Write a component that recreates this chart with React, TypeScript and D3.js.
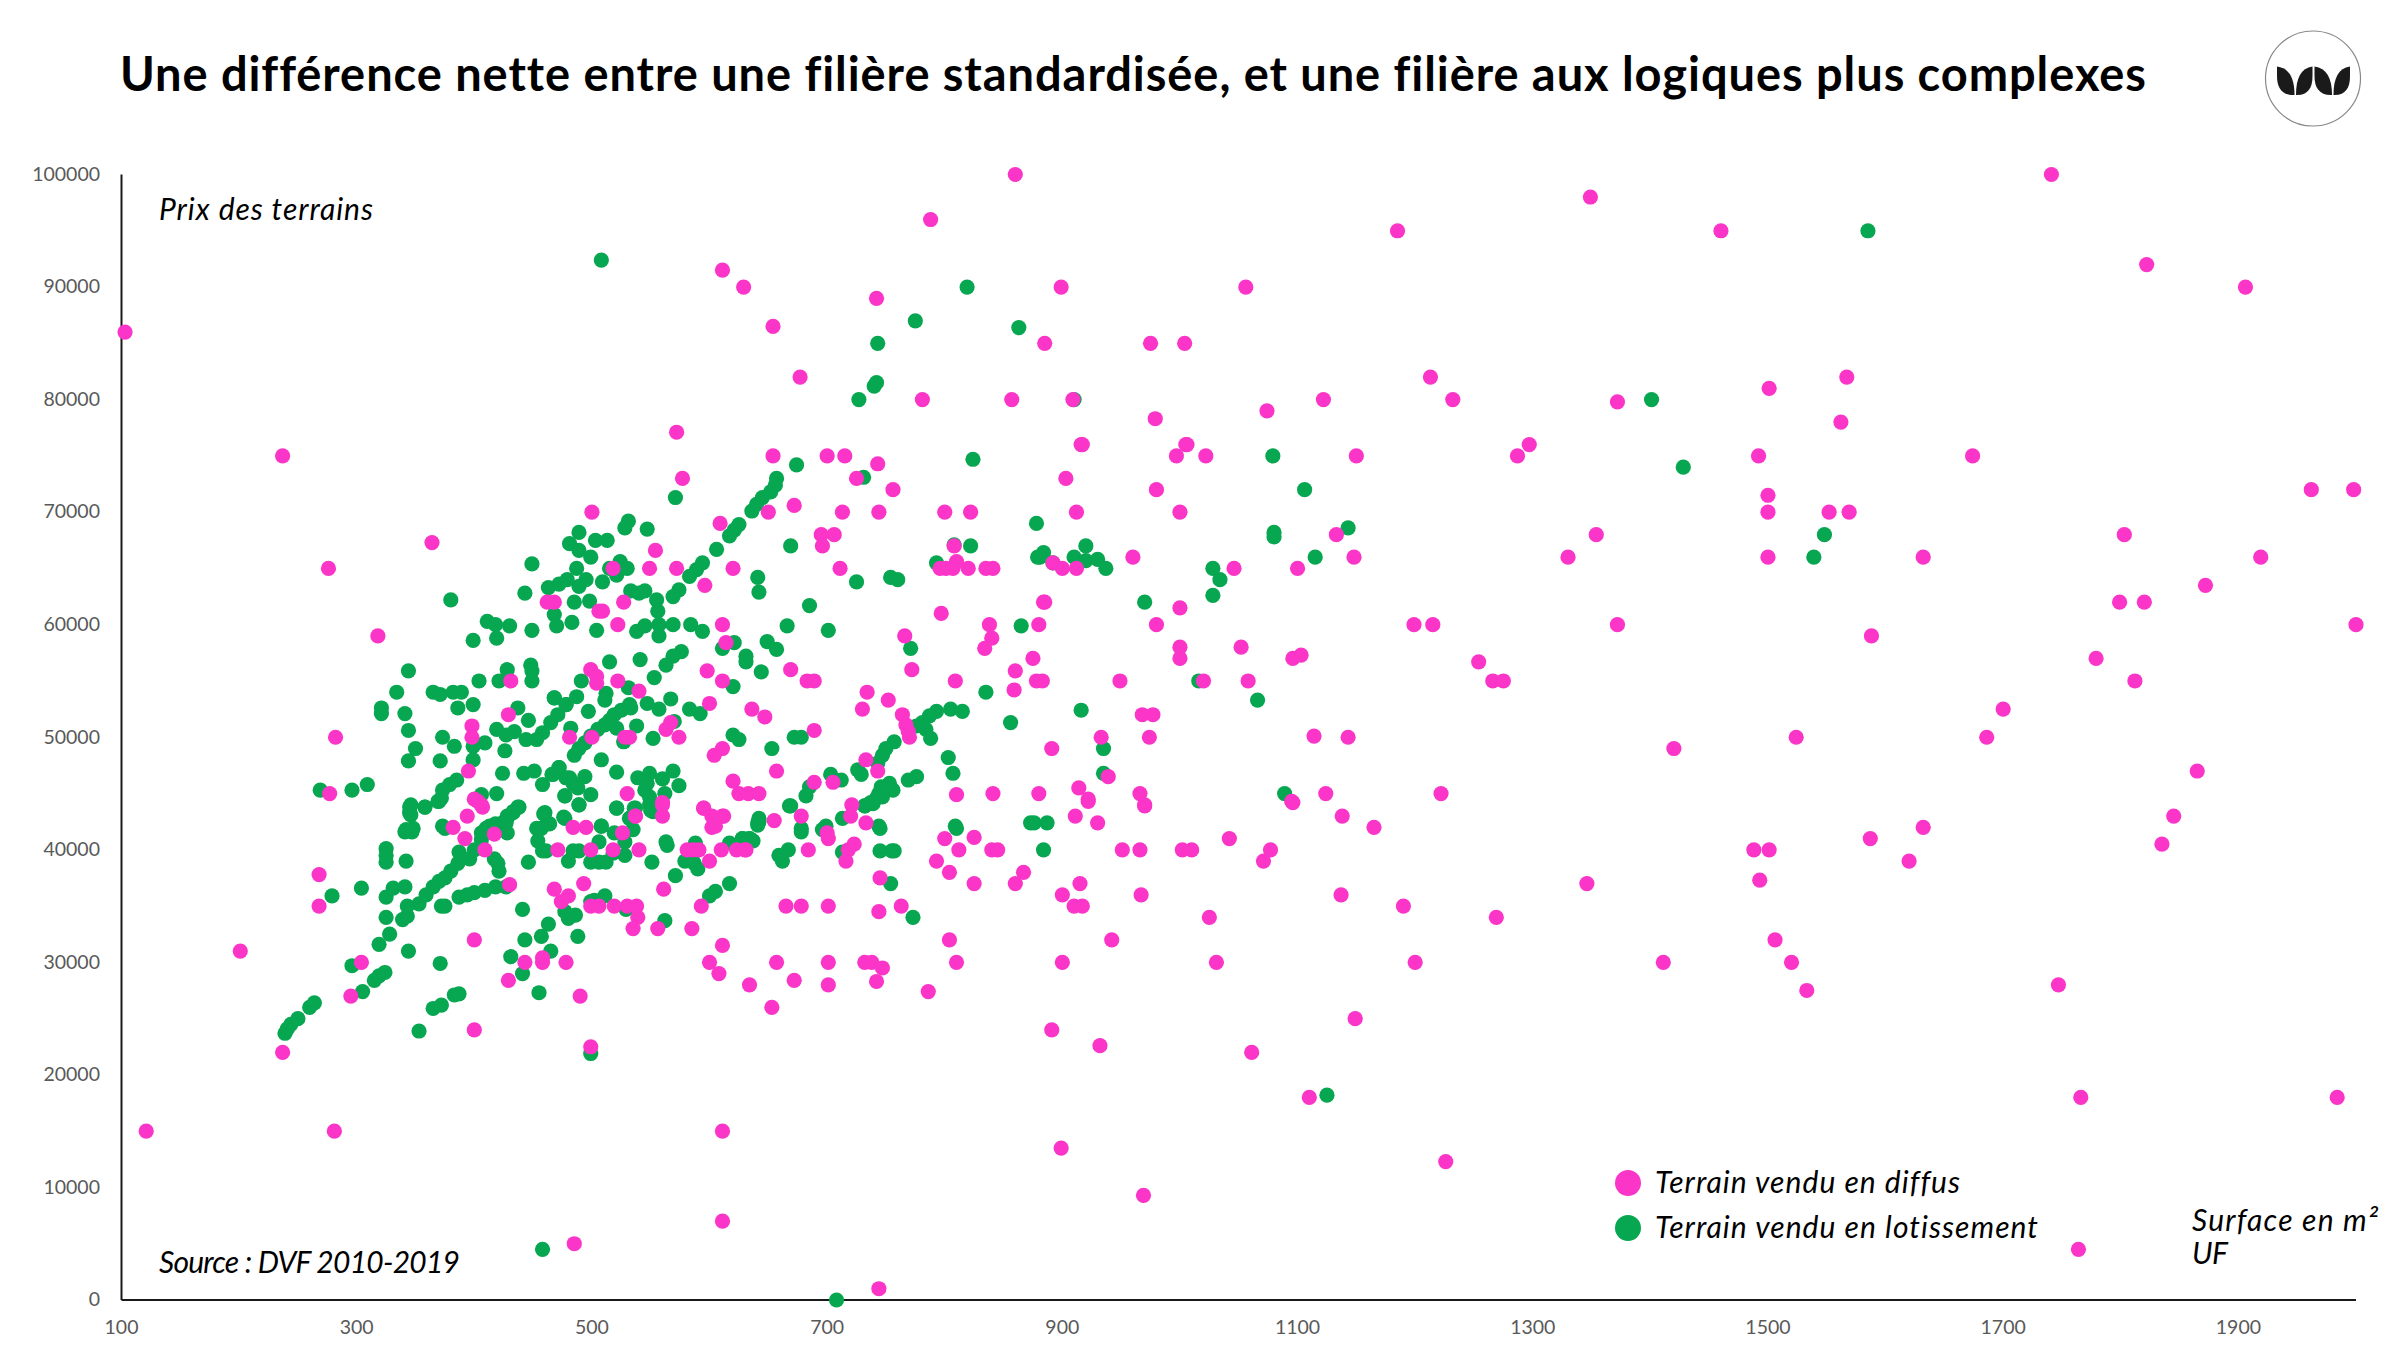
import { useEffect, useRef } from 'react'

import { axisBottom, axisLeft, format, scaleLinear, select } from 'd3'

const TITLE = 'Une différence nette entre une filière standardisée, et une filière aux logiques plus complexes'
const X_TICKS = [100, 300, 500, 700, 900, 1100, 1300, 1500, 1700, 1900]
const Y_TICKS = [0, 10000, 20000, 30000, 40000, 50000, 60000, 70000, 80000, 90000, 100000]
const LEGEND = ['Terrain vendu en diffus', 'Terrain vendu en lotissement']

// [surface, prix]
const lotissement: [number, number][] = [
  [508, 92400], [1585, 95000], [819, 90000], [863, 86400], [775, 87000], [743, 85000], [742, 81500], [740, 81200], [727, 80000], [910, 80000],
  [1401, 80000], [1428, 74000], [824, 74700], [1079, 75000], [1106, 72000], [1539, 66000], [1548, 68000], [674, 74200], [731, 73100], [571, 71300],
  [657, 73000], [656, 72400], [652, 71800], [645, 71300], [640, 70700], [636, 70100], [625, 68900], [621, 68400], [617, 67900], [531, 69200],
  [528, 68600], [547, 68500], [489, 68200], [503, 67500], [513, 67500], [481, 67200], [489, 66600], [499, 66000], [669, 67000], [606, 66700],
  [808, 67100], [822, 67000], [878, 69000], [884, 66400], [879, 66000], [524, 65600], [515, 65000], [521, 64400], [530, 65000], [487, 65000],
  [594, 65500], [589, 64900], [583, 64300], [509, 63800], [495, 64000], [489, 63400], [793, 65500], [641, 64200], [642, 62900], [754, 64200],
  [760, 64000], [725, 63800], [574, 63100], [569, 62500], [533, 63000], [540, 62800], [545, 63000], [555, 62200], [556, 61200], [685, 61700],
  [498, 62100], [485, 62000], [468, 60900], [483, 60200], [470, 59900], [666, 59900], [504, 59500], [538, 59400], [545, 59900], [557, 60000],
  [569, 60000], [557, 59000], [584, 60000], [594, 59400], [701, 59500], [865, 59900], [771, 57900], [621, 58400], [611, 57900], [649, 58500],
  [657, 57800], [631, 57200], [631, 56700], [644, 55800], [576, 57600], [569, 57200], [563, 56400], [541, 56900], [553, 55300], [515, 56700],
  [491, 55000], [487, 53600], [478, 52900], [468, 53500], [471, 52000], [465, 51300], [512, 53900], [531, 54400], [511, 53300], [620, 54500],
  [547, 53000], [557, 52500], [567, 53400], [583, 52500], [592, 52100], [497, 52300], [532, 52900], [525, 52400], [519, 52000], [515, 51500],
  [511, 51100], [505, 50700], [499, 50100], [494, 49500], [489, 49000], [485, 48400], [521, 50800], [533, 52600], [538, 51000], [482, 50800],
  [570, 51400], [527, 49600], [552, 49900], [620, 50200], [625, 49800], [672, 50000], [678, 50000], [653, 49000], [508, 48000], [472, 47300],
  [467, 46700], [521, 46900], [803, 48200], [807, 46800], [856, 51300], [835, 54000], [793, 52300], [805, 52500], [815, 52300], [787, 51900],
  [781, 51300], [784, 50700], [788, 49900], [776, 51000], [757, 49600], [750, 49000], [747, 48400], [743, 47700], [726, 47100], [729, 46700],
  [776, 46500], [769, 46200], [756, 45300], [753, 45900], [746, 45600], [744, 45000], [747, 44700], [742, 44600], [737, 44200], [732, 43900],
  [703, 46700], [712, 46200], [685, 45600], [682, 44800], [668, 43900], [713, 42800], [642, 42800], [641, 42200], [744, 42100], [809, 42100],
  [873, 42400], [876, 42400], [887, 42400], [678, 41900], [699, 42100], [532, 42800], [537, 43700], [521, 43700], [549, 44000], [549, 44700],
  [545, 45300], [539, 46400], [549, 46800], [560, 46300], [569, 47000], [562, 45000], [574, 45700], [547, 45900], [552, 43400], [477, 42800],
  [508, 42100], [477, 44800], [489, 44000], [499, 44900], [484, 45900], [494, 46500], [478, 46400], [881, 66000], [892, 65500], [920, 67000],
  [910, 66000], [920, 65700], [930, 65800], [937, 65000], [1028, 65000], [1034, 64000], [1028, 62600], [970, 62000], [1016, 55000], [1066, 53300],
  [916, 52400], [935, 49000], [935, 46800], [1089, 45000], [1080, 68200], [1080, 67800], [1143, 68600], [1115, 66000], [884, 40000], [810, 41900],
  [754, 37000], [773, 34000], [669, 43900], [642, 42500], [678, 41600], [634, 41000], [628, 41000], [637, 40800], [696, 41800], [745, 41900],
  [732, 43900], [739, 44100], [667, 40000], [659, 39500], [662, 39000], [713, 39800], [745, 39900], [755, 39900], [757, 39900], [1125, 18200],
  [380, 62200], [411, 60300], [418, 60000], [430, 59900], [419, 58800], [399, 58600], [449, 65400], [443, 62800], [463, 63300], [472, 63600],
  [479, 64000], [449, 59500], [344, 55900], [428, 56000], [448, 56400], [449, 55900], [449, 55000], [421, 55000], [404, 55000], [334, 54000],
  [365, 54000], [371, 53800], [382, 54000], [389, 54000], [468, 53500], [478, 52900], [321, 52600], [321, 52100], [341, 52100], [386, 52600],
  [399, 52900], [437, 52600], [446, 51500], [458, 50400], [453, 49800], [444, 49800], [344, 50600], [373, 50000], [383, 49200], [419, 50700],
  [427, 50200], [434, 50500], [409, 49500], [399, 49200], [350, 49000], [344, 47900], [371, 47900], [399, 48000], [426, 48800], [269, 45300],
  [296, 45300], [309, 45800], [424, 46800], [442, 46800], [451, 47000], [458, 45800], [466, 46700], [472, 47300], [481, 46400], [484, 45900],
  [488, 45500], [477, 44800], [419, 45000], [406, 44900], [385, 46200], [379, 45800], [373, 45300], [372, 44600], [370, 44300], [346, 44000],
  [345, 43300], [358, 43800], [438, 43800], [433, 43300], [428, 42800], [424, 42400], [418, 42100], [410, 41900], [460, 43300], [462, 42400],
  [453, 41900], [342, 41800], [348, 41900], [373, 42100], [239, 23700], [241, 24100], [244, 24500], [250, 25000], [260, 26000], [264, 26400],
  [296, 29700], [305, 27400], [315, 28400], [319, 28800], [324, 29100], [319, 31600], [328, 32500], [344, 31000], [371, 29900], [325, 34000],
  [339, 33800], [343, 34100], [343, 35000], [353, 35200], [359, 36000], [365, 36700], [370, 37200], [375, 37500], [380, 38100], [386, 38800],
  [387, 39800], [396, 39200], [400, 40000], [406, 40900], [406, 41500], [413, 42100], [418, 42300], [427, 42400], [428, 43000], [433, 43400],
  [437, 43800], [428, 41500], [325, 40100], [325, 39500], [325, 38900], [342, 39000], [341, 41600], [347, 41600], [345, 43800], [346, 43100],
  [358, 43800], [369, 44300], [375, 41900], [304, 36600], [279, 35900], [325, 35800], [331, 36600], [341, 36700], [372, 35000], [375, 35000],
  [387, 35800], [394, 36000], [400, 36200], [409, 36400], [418, 36700], [427, 36700], [417, 39200], [420, 38800], [421, 38100], [446, 38900],
  [441, 34700], [463, 33400], [457, 32300], [443, 32000], [465, 31000], [431, 30500], [441, 29000], [455, 27300], [488, 32300], [486, 34200],
  [480, 33900], [477, 34500], [353, 23900], [365, 25900], [372, 26200], [383, 27100], [387, 27200], [499, 21900], [459, 43200], [464, 42300],
  [457, 41900], [454, 40800], [458, 39900], [461, 39900], [476, 42900], [489, 44000], [480, 39000], [484, 39900], [489, 39900], [508, 42100],
  [521, 43700], [506, 40700], [519, 41500], [535, 41800], [532, 42800], [536, 43700], [528, 40700], [499, 38900], [506, 38900], [512, 38900],
  [518, 39700], [528, 39500], [551, 38900], [550, 43500], [563, 40700], [564, 40400], [571, 37700], [579, 39000], [587, 38800], [590, 38300],
  [588, 40600], [585, 39300], [617, 37000], [605, 36300], [600, 35900], [562, 33700], [499, 35400], [511, 35900], [529, 34700], [502, 35500],
  [617, 40600], [628, 41000], [634, 41000], [641, 42400], [458, 4500], [708, 0],
]

const diffus: [number, number][] = [
  [103, 86000], [611, 91500], [629, 90000], [654, 86500], [677, 82000], [788, 96000], [860, 100000], [899, 90000], [885, 85000], [857, 80000],
  [781, 80000], [742, 89000], [909, 80000], [916, 76000], [975, 85000], [1004, 85000], [1056, 90000], [979, 78300], [1074, 79000], [1122, 80000],
  [1005, 76000], [997, 75000], [1022, 75000], [1150, 75000], [1185, 95000], [1213, 82000], [1232, 80000], [1287, 75000], [1297, 76000], [1349, 98000],
  [1460, 95000], [1372, 79800], [1501, 81000], [1567, 82000], [1562, 78000], [1492, 75000], [1674, 75000], [1741, 100000], [1822, 92000], [1906, 90000],
  [1962, 72000], [1998, 72000], [1500, 71500], [1500, 70000], [1552, 70000], [1569, 70000], [1354, 68000], [1330, 66000], [1500, 66000], [1632, 66000],
  [1588, 59000], [1803, 68000], [1919, 66000], [1872, 63500], [1799, 62000], [1820, 62000], [2000, 60000], [1372, 60000], [1199, 60000], [1215, 60000],
  [1254, 56700], [1266, 55000], [1275, 55000], [1779, 57000], [1812, 55000], [1700, 52500], [1686, 50000], [1524, 50000], [1420, 49000], [1865, 47000],
  [1222, 45000], [1845, 43000], [1632, 42000], [1835, 40500], [1587, 41000], [1620, 39000], [1488, 40000], [1501, 40000], [1493, 37300], [1346, 37000],
  [1269, 34000], [1190, 35000], [1200, 30000], [1411, 30000], [1506, 32000], [1520, 30000], [1533, 27500], [1747, 28000], [1766, 18000], [1984, 18000],
  [1764, 4500], [1149, 25000], [1061, 22000], [1110, 18000], [1226, 12300], [969, 9300], [899, 13500], [611, 15000], [611, 7000], [485, 5000],
  [744, 1000], [121, 15000], [281, 15000], [201, 31000], [237, 22000], [237, 75000], [364, 67300], [276, 65000], [318, 59000], [282, 50000],
  [277, 45000], [268, 37800], [268, 35000], [304, 30000], [295, 27000], [400, 24000], [499, 22500], [400, 32000], [429, 28400], [443, 30000],
  [458, 30400], [458, 30000], [478, 30000], [490, 27000], [430, 36900], [468, 36500], [480, 35900], [474, 35400], [493, 37000], [499, 35000],
  [506, 35000], [519, 35000], [530, 35000], [538, 35000], [539, 34000], [535, 33000], [556, 33000], [561, 36500], [585, 33000], [593, 35000],
  [611, 31500], [600, 30000], [608, 29000], [634, 28000], [417, 41400], [392, 41000], [394, 43000], [382, 42000], [403, 44300], [407, 43800],
  [409, 40000], [471, 40000], [484, 42000], [495, 42000], [499, 40000], [518, 40000], [526, 41500], [537, 43000], [540, 40000], [560, 44000],
  [560, 43000], [595, 43700], [602, 43000], [612, 43000], [602, 42000], [581, 40000], [586, 40000], [591, 40000], [600, 39000], [610, 40000],
  [623, 40000], [631, 40000], [655, 42600], [678, 43000], [720, 43000], [721, 44000], [733, 42400], [700, 41500], [701, 41000], [684, 40000],
  [630, 40000], [723, 40500], [718, 40000], [716, 39000], [800, 41000], [825, 41100], [812, 40000], [840, 40000], [845, 40000], [793, 39000],
  [804, 38000], [825, 37000], [867, 38000], [860, 37000], [951, 40000], [966, 40000], [1002, 40000], [1010, 40000], [745, 37500], [665, 35000],
  [678, 35000], [701, 35000], [744, 34500], [763, 35000], [915, 37000], [900, 36000], [910, 35000], [917, 35000], [967, 36000], [1025, 34000],
  [804, 32000], [942, 32000], [810, 30000], [900, 30000], [1031, 30000], [657, 30000], [701, 30000], [732, 30000], [738, 30000], [747, 29500],
  [742, 28300], [672, 28400], [701, 28000], [653, 26000], [786, 27400], [891, 24000], [932, 22600], [970, 43900], [922, 44300], [911, 43000],
  [930, 42400], [1042, 41000], [1077, 40000], [1071, 39000], [1138, 43000], [1165, 42000], [1096, 44200], [1137, 36000], [500, 70000], [462, 62000],
  [468, 62000], [506, 61200], [499, 56000], [504, 55400], [504, 54800], [431, 55000], [429, 52000], [398, 51000], [398, 50000], [481, 50000],
  [500, 50000], [395, 47000], [400, 44500], [406, 44000], [572, 77100], [654, 75000], [700, 75000], [715, 75000], [743, 74300], [725, 73000],
  [756, 72000], [577, 73000], [672, 70600], [650, 70000], [713, 70000], [744, 70000], [800, 70000], [822, 70000], [609, 69000], [695, 68000],
  [706, 68000], [696, 67000], [808, 67000], [554, 66600], [549, 65000], [572, 65000], [620, 65000], [711, 65000], [518, 65000], [801, 65000],
  [810, 65600], [820, 65000], [835, 65000], [841, 65000], [796, 65000], [807, 65000], [596, 63500], [527, 62000], [509, 61200], [522, 60000],
  [611, 60000], [797, 61000], [884, 62000], [838, 60000], [880, 60000], [840, 58800], [834, 57900], [766, 59000], [614, 58400], [875, 57000],
  [860, 55900], [859, 54200], [878, 55000], [883, 55000], [772, 56000], [809, 55000], [669, 56000], [683, 55000], [689, 55000], [598, 55900],
  [611, 55000], [522, 55000], [540, 54100], [734, 54000], [752, 53300], [730, 52500], [764, 52000], [600, 53000], [636, 52500], [647, 51800],
  [689, 50600], [767, 51100], [769, 50500], [770, 50000], [567, 51300], [563, 50700], [574, 50000], [532, 50000], [528, 50000], [611, 49000],
  [604, 48400], [733, 48000], [743, 47000], [657, 47000], [705, 46000], [689, 46000], [620, 46100], [625, 45000], [633, 45000], [642, 45000],
  [810, 44900], [841, 45000], [880, 45000], [530, 45000], [560, 44200], [537, 43000], [595, 43700], [611, 43000], [605, 42100], [917, 76000],
  [1006, 76000], [903, 73000], [980, 72000], [912, 70000], [1000, 70000], [1133, 68000], [960, 66000], [1100, 65000], [1148, 66000], [1046, 65000],
  [892, 65500], [900, 65000], [912, 65000], [885, 62000], [1000, 61500], [980, 60000], [1000, 58000], [1000, 57000], [1052, 58000], [1096, 57000],
  [1103, 57300], [949, 55000], [1020, 55000], [1058, 55000], [968, 52000], [977, 52000], [933, 50000], [974, 50000], [1114, 50100], [1143, 50000],
  [891, 49000], [939, 46500], [914, 45500], [922, 44500], [966, 45000], [970, 44000], [1095, 44300], [1124, 45000],
]

const width = 2400
const height = 1350
const PINK = '#fa35c8'
const GREEN = '#07a650'
const FONT = "Lato, 'Noto Sans', sans-serif"
const NO_LIGATURES = { fontVariantLigatures: 'none' } as const

export default function App() {
  const axesRef = useRef<SVGGElement | null>(null)

  const x = scaleLinear().domain([100, 2000]).range([121.5, 2356])
  const y = scaleLinear().domain([0, 100000]).range([1300, 174.5])

  useEffect(() => {
    if (!axesRef.current) {
      return
    }
    const axes = select(axesRef.current)
    axes.selectAll('*').remove()

    axes
      .append('g')
      .attr('transform', 'translate(0, 1300)')
      .call(axisBottom(x).tickValues(X_TICKS).tickFormat(format('d')).tickSize(0).tickPadding(20).offset(0))
      .call(group => group.selectAll('text').attr('font-size', 19.5).attr('font-family', FONT).attr('fill', '#595959'))
      .call(group => group.select('.domain').attr('stroke', '#1a1a1a').attr('stroke-width', 2))

    axes
      .append('g')
      .attr('transform', 'translate(121.5, 0)')
      .call(axisLeft(y).tickValues(Y_TICKS).tickFormat(format('d')).tickSize(0).tickPadding(21.5).offset(0))
      .call(group => group.selectAll('text').attr('font-size', 19.5).attr('font-family', FONT).attr('fill', '#595959'))
      .call(group => group.select('.domain').attr('stroke', '#1a1a1a').attr('stroke-width', 2))
  }, [])

  return (
    <svg
      width={width}
      height={height}
      viewBox={`0 0 ${width} ${height}`}
      style={{ position: 'absolute', left: 0, top: 0, background: '#fff' }}
    >
      <text x={120} y={91} fontFamily={FONT} fontSize={47} fontWeight={700} fill="#000" textLength={2026} style={NO_LIGATURES}>
        {TITLE}
      </text>

      <g>
        <circle cx={2313} cy={78.5} r={47.5} fill="none" stroke="#888" strokeWidth={1.2} />
        {[0, 1].map(i => (
          <g key={i} transform={`translate(${i * 37.5}, 0)`} fill="#1a1a1a">
            <path d="M2277 66.5 C2289 68 2294.5 78 2294.5 95 C2282 95.5 2277 88 2277 76 Z" />
            <path d="M2312.5 66.5 C2301 68 2296 78 2296 95 C2308 95.5 2312.5 88 2312.5 76 Z" />
          </g>
        ))}
      </g>

      <g ref={axesRef} />

      <g fill={GREEN}>
        {lotissement.map(([surface, prix], i) => (
          <circle key={i} cx={x(surface)} cy={y(prix)} r={7.6} />
        ))}
      </g>
      <g fill={PINK}>
        {diffus.map(([surface, prix], i) => (
          <circle key={i} cx={x(surface)} cy={y(prix)} r={7.6} />
        ))}
      </g>

      <g fontFamily={FONT} fontStyle="italic" fontSize={30} fill="#000" style={NO_LIGATURES}>
        <text x={159} y={220} textLength={214}>Prix des terrains</text>
        <text x={159} y={1273} textLength={301}>Source : DVF 2010-2019</text>
        <text x={2192} y={1231} textLength={186}>Surface en m²</text>
        <text x={2192} y={1264} textLength={36}>UF</text>
        <circle cx={1628} cy={1183} r={13} fill={PINK} />
        <text x={1655} y={1193} textLength={305}>{LEGEND[0]}</text>
        <circle cx={1628} cy={1228} r={13} fill={GREEN} />
        <text x={1655} y={1238} textLength={383}>{LEGEND[1]}</text>
      </g>
    </svg>
  )
}
